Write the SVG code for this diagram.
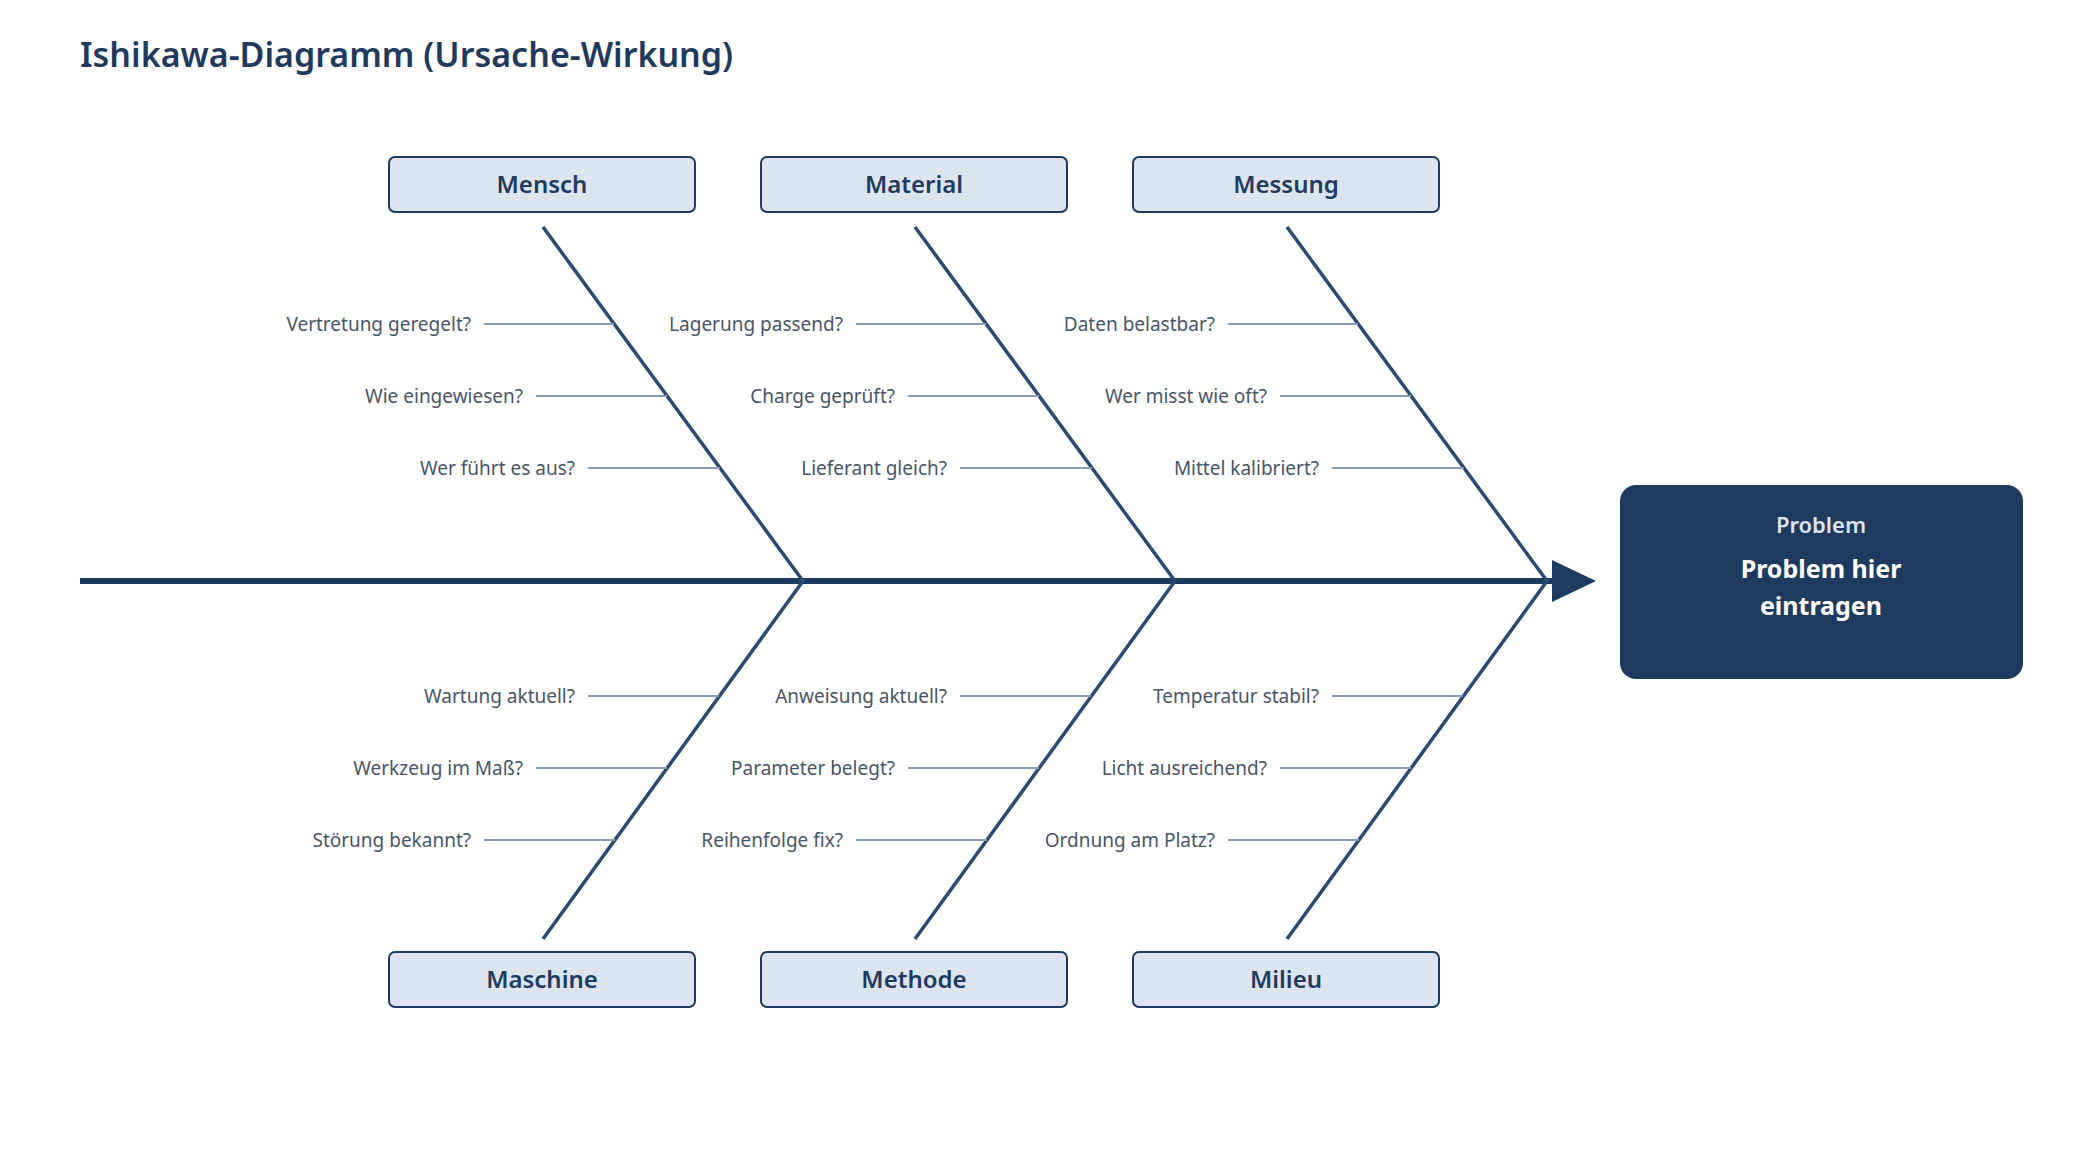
<svg xmlns="http://www.w3.org/2000/svg" width="2080" height="1160" viewBox="0 0 2080 1160">
<style>
text{font-family:"Noto Sans","Open Sans","Liberation Sans",sans-serif}
.title{font-size:34px;font-weight:600;fill:#1f3a5f}
.cat rect{fill:#dce4f0;stroke:#1f3a5f;stroke-width:2}
.cat text{font-size:24px;font-weight:600;fill:#1f3a5f;text-anchor:middle}
.bone{stroke:#2a4a75;stroke-width:3.5;fill:none}
.sub{stroke:#8a9bb5;stroke-width:2}
.lbl{font-size:19px;fill:#475569;text-anchor:end}
</style>
<rect width="2080" height="1160" fill="#fff"/>
<text class="title" x="80" y="67">Ishikawa-Diagramm (Ursache-Wirkung)</text>
<g id="connectors">
<line x1="80" y1="581" x2="1556" y2="581" stroke="#1f3a5f" stroke-width="6"/>
<polygon points="1552,560 1596,581 1552,602" fill="#1f3a5f"/>
<path class="bone" d="M543,227 L803,581 L543,939 M915,227 L1175,581 L915,939 M1287,227 L1547,581 L1287,939"/>
<g class="sub">
<line x1="484" y1="324" x2="614" y2="324"/><line x1="536" y1="396" x2="667" y2="396"/><line x1="588" y1="468" x2="720" y2="468"/>
<line x1="856" y1="324" x2="986" y2="324"/><line x1="908" y1="396" x2="1039" y2="396"/><line x1="960" y1="468" x2="1092" y2="468"/>
<line x1="1228" y1="324" x2="1358" y2="324"/><line x1="1280" y1="396" x2="1411" y2="396"/><line x1="1332" y1="468" x2="1464" y2="468"/>
<line x1="588" y1="696" x2="719" y2="696"/><line x1="536" y1="768" x2="667" y2="768"/><line x1="484" y1="840" x2="615" y2="840"/>
<line x1="960" y1="696" x2="1091" y2="696"/><line x1="908" y1="768" x2="1039" y2="768"/><line x1="856" y1="840" x2="987" y2="840"/>
<line x1="1332" y1="696" x2="1463" y2="696"/><line x1="1280" y1="768" x2="1411" y2="768"/><line x1="1228" y1="840" x2="1359" y2="840"/>
</g>
</g>
<g id="labels">
<text class="lbl" x="471" y="331">Vertretung geregelt?</text>
<text class="lbl" x="523" y="403">Wie eingewiesen?</text>
<text class="lbl" x="575" y="475">Wer führt es aus?</text>
<text class="lbl" x="843" y="331">Lagerung passend?</text>
<text class="lbl" x="895" y="403">Charge geprüft?</text>
<text class="lbl" x="947" y="475">Lieferant gleich?</text>
<text class="lbl" x="1215" y="331">Daten belastbar?</text>
<text class="lbl" x="1267" y="403">Wer misst wie oft?</text>
<text class="lbl" x="1319" y="475">Mittel kalibriert?</text>
<text class="lbl" x="575" y="703">Wartung aktuell?</text>
<text class="lbl" x="523" y="775">Werkzeug im Maß?</text>
<text class="lbl" x="471" y="847">Störung bekannt?</text>
<text class="lbl" x="947" y="703">Anweisung aktuell?</text>
<text class="lbl" x="895" y="775">Parameter belegt?</text>
<text class="lbl" x="843" y="847">Reihenfolge fix?</text>
<text class="lbl" x="1319" y="703">Temperatur stabil?</text>
<text class="lbl" x="1267" y="775">Licht ausreichend?</text>
<text class="lbl" x="1215" y="847">Ordnung am Platz?</text>
</g>
<g id="mensch" class="cat"><rect x="389" y="157" width="306" height="55" rx="6"/><text x="542" y="193">Mensch</text></g>
<g id="material" class="cat"><rect x="761" y="157" width="306" height="55" rx="6"/><text x="914" y="193">Material</text></g>
<g id="messung" class="cat"><rect x="1133" y="157" width="306" height="55" rx="6"/><text x="1286" y="193">Messung</text></g>
<g id="maschine" class="cat"><rect x="389" y="952" width="306" height="55" rx="6"/><text x="542" y="988">Maschine</text></g>
<g id="methode" class="cat"><rect x="761" y="952" width="306" height="55" rx="6"/><text x="914" y="988">Methode</text></g>
<g id="milieu" class="cat"><rect x="1133" y="952" width="306" height="55" rx="6"/><text x="1286" y="988">Milieu</text></g>
<g id="problem">
<rect x="1620" y="485" width="403" height="194" rx="16" fill="#1f3a5f"/>
<text x="1821" y="533" text-anchor="middle" font-size="22" font-weight="600" fill="#dce4f0">Problem</text>
<text x="1821" y="578" text-anchor="middle" font-size="25" font-weight="700" fill="#fff">Problem hier</text>
<text x="1821" y="615" text-anchor="middle" font-size="25" font-weight="700" fill="#fff">eintragen</text>
</g>
</svg>
